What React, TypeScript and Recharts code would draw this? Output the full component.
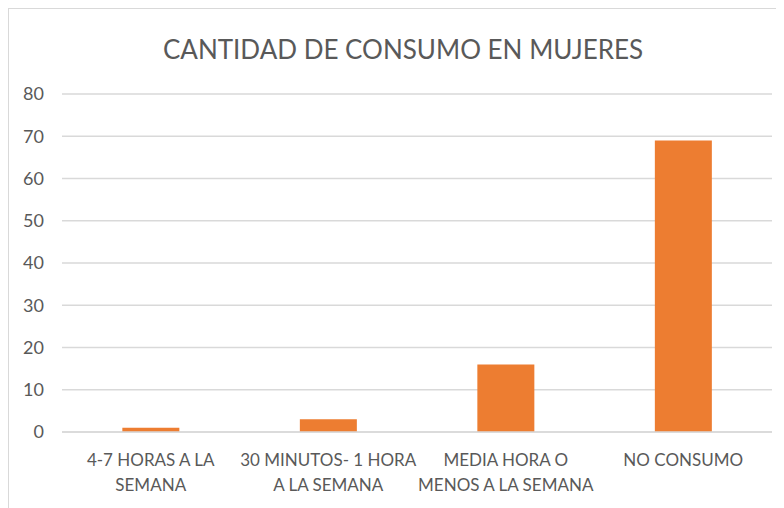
import React from "react";
import { BarChart, Bar, XAxis, YAxis, CartesianGrid } from "recharts";

const categories = [
  "4-7 HORAS A LA|SEMANA",
  "30 MINUTOS- 1 HORA|A LA SEMANA",
  "MEDIA HORA O|MENOS A LA SEMANA",
  "NO CONSUMO",
];
const values = [1, 3, 16, 69];
const yTicks = [0, 10, 20, 30, 40, 50, 60, 70, 80];
const title = "CANTIDAD DE CONSUMO EN MUJERES";

const data = categories.map((c, i) => ({ name: c, value: values[i] }));

const FONT = "Lato, 'Open Sans', sans-serif";
const GRAY = "#595959";

const XTick = (props: any) => {
  const { x, y, payload } = props;
  const lines = String(payload.value).split("|");
  return (
    <g>
      {lines.map((l, i) => (
        <text
          key={i}
          x={x}
          y={y + 26 + i * 24.5}
          textAnchor="middle"
          fill={GRAY}
          fontSize={17}
          fontFamily={FONT}
        >
          {l}
        </text>
      ))}
    </g>
  );
};

export default function App() {
  return (
    <div style={{ width: 776, height: 500, overflow: "hidden", position: "relative" }}>
      <div
        style={{
          position: "absolute",
          left: 0,
          top: 0,
          width: 900,
          height: 700,
          border: "1px solid #d9d9d9",
          boxSizing: "border-box",
        }}
      />
      <div style={{ position: "absolute", left: 0, top: 0 }}>
        <BarChart
          width={776}
          height={500}
          data={data}
          margin={{ top: 86, right: 12, bottom: 46, left: 14 }}
          barCategoryGap="34%"
        >
          <text
            x={395}
            y={50.5}
            textAnchor="middle"
            fill={GRAY}
            fontSize={26}
            fontFamily={FONT}
          >
            {title}
          </text>
          <CartesianGrid vertical={false} stroke="#d9d9d9" strokeWidth={1.5} />
          <XAxis
            dataKey="name"
            height={30}
            axisLine={{ stroke: "#d9d9d9", strokeWidth: 1.5 }}
            tickLine={false}
            tick={<XTick />}
            interval={0}
          />
          <YAxis
            domain={[0, 80]}
            ticks={yTicks}
            width={40}
            axisLine={false}
            tickLine={false}
            tickSize={0}
            tickMargin={18}
            tick={{ fill: GRAY, fontSize: 18, fontFamily: FONT }}
          />
          <Bar dataKey="value" fill="#ED7D31" isAnimationActive={false} />
        </BarChart>
      </div>
    </div>
  );
}
